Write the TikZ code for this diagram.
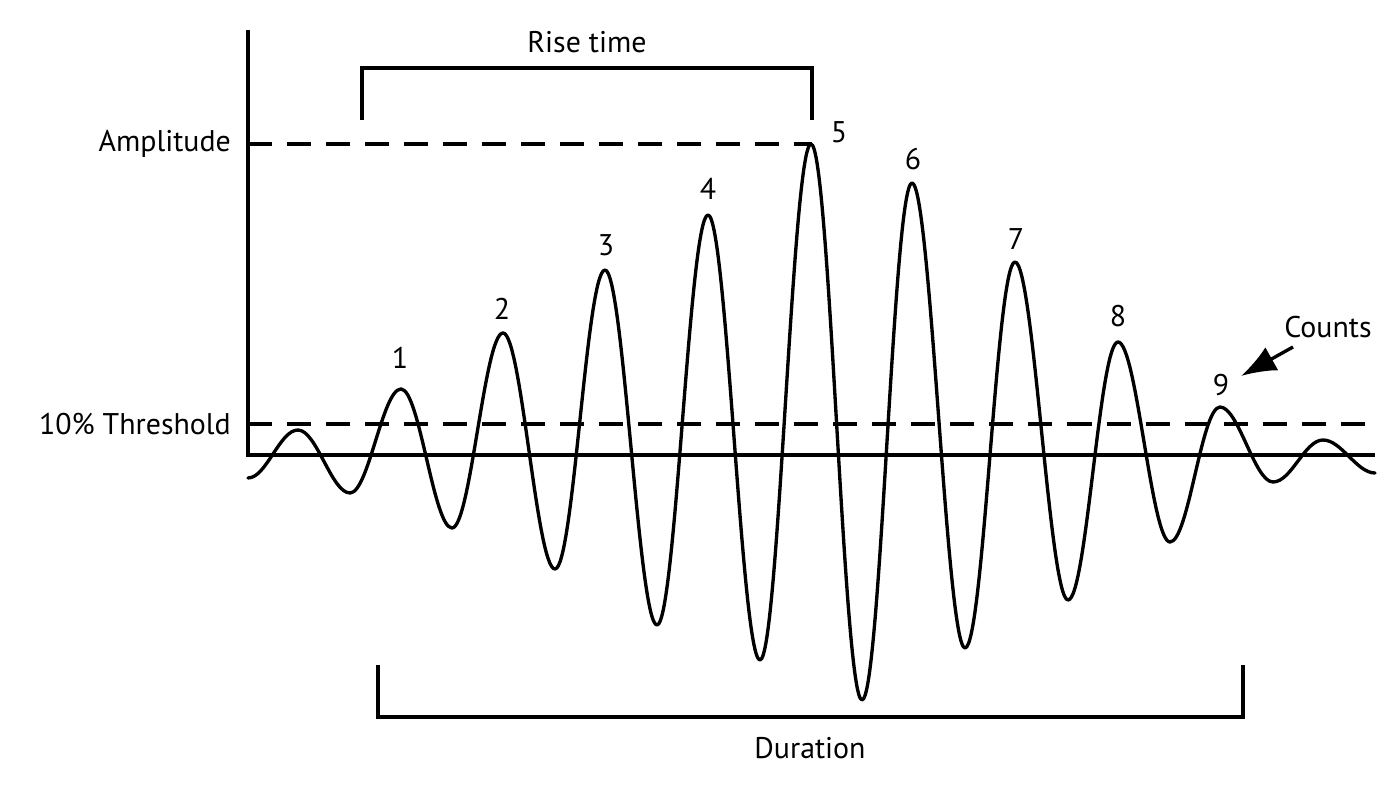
\documentclass[tikz,border=0pt]{standalone}
\usepackage{fontspec}
\setmainfont{PT Sans}
\usetikzlibrary{arrows.meta,positioning}

\begin{document}
\begin{tikzpicture}[x=0.01cm,y=-0.01cm,
    wave/.style={line width=0.95pt,line join=round,line cap=round},
    axisline/.style={line width=1pt},
    refline/.style={line width=1pt,dash pattern=on 0.24cm off 0.15cm},
    bracketline/.style={line width=1.1pt,line join=miter},
    lbl/.style={font=\fontsize{8.5}{10}\selectfont,inner sep=1pt},
    peaklbl/.style={lbl}]
    \useasboundingbox (0,0) rectangle (1398,804);
    % axes
    \draw[axisline] (248,30) -- (248,455) -- (1375,455);
    \draw[refline] (248,144) -- (812,144);
    \draw[refline] (248,424) -- (1375,424);
    \node[lbl,anchor=east] (amp) at (235,144) {Amplitude};
    \node[lbl,anchor=east] (thr) at (235,424) {10\% Threshold};
    % signal
    \draw[wave] (248,478)
      \foreach \px/\py in {298/430,350/493,401/389,452/528,503/333,555/569,
        605/270,657/625,708/215,760/660,811/144,862/700,912/183,965/648,
        1015/262,1068/600,1118/342,1170/542,1220/407,1273/482,1323/440,1375/473}
      { .. controls +(18.5,0) and +(-18.5,0) .. (\px,\py) };
    % peak numbers
    \node[peaklbl] (p1) at (400,358) {1};
    \node[peaklbl] (p2) at (502,309) {2};
    \node[peaklbl] (p3) at (606,245) {3};
    \node[peaklbl] (p4) at (708,189) {4};
    \node[peaklbl] (p5) at (839,132) {5};
    \node[peaklbl] (p6) at (913,159) {6};
    \node[peaklbl] (p7) at (1016,239) {7};
    \node[peaklbl] (p8) at (1118,316) {8};
    \node[peaklbl] (p9) at (1221,385) {9};
    % brackets
    \draw[bracketline] (362,120) -- (362,68) -- (812,68) -- (812,120);
    \node[lbl] (rise) at (587,42) {Rise time};
    \draw[bracketline] (378,665) -- (378,717) -- (1243,717) -- (1243,665);
    \node[lbl] (dur) at (810,748) {Duration};
    % counts
    \node[lbl] (counts) at (1328,327) {Counts};
    \coordinate (ctail) at (1293,347);
    \coordinate (chead) at (1241,376);
    \draw[line width=0.95pt,-{Latex[length=10pt,width=7.5pt]}] (ctail) -- (chead);
\end{tikzpicture}
\end{document}
